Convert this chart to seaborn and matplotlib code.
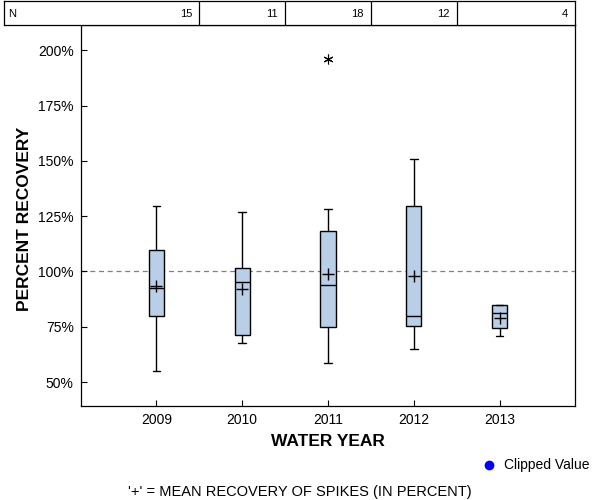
import matplotlib
matplotlib.use("Agg")
import matplotlib.pyplot as plt
import numpy as np
import pandas as pd
import seaborn as sns
from matplotlib.lines import Line2D

# ---- data (percent recovery) ----
years = ["2009", "2010", "2011", "2012", "2013"]
counts = [15, 11, 18, 12, 4]
whisker_low = [54.9, 67.5, 58.5, 64.8, 70.7]
q1 = [79.7, 71.2, 74.9, 75.4, 74.3]
median = [92.4, 95.1, 93.8, 79.7, 81.2]
q3 = [109.6, 101.4, 118.2, 129.6, 84.7]
whisker_high = [129.5, 126.8, 128.1, 150.9, 84.7]
means = [93.4, 92.0, 98.9, 98.1, 79.1]
outlier_years = ["2011"]
outlier_values = [196.1]
yticks = [50, 75, 100, 125, 150, 175, 200]

# five summary values per year -> with whis=(0, 100) seaborn draws exactly these
rows = []
for i, yr in enumerate(years):
    for v in (whisker_low[i], q1[i], median[i], q3[i], whisker_high[i]):
        rows.append({"year": yr, "value": v})
df = pd.DataFrame(rows)

sns.set_style("ticks")
plt.rcParams["font.family"] = ["Liberation Sans", "DejaVu Sans"]
plt.rcParams["text.color"] = "black"
plt.rcParams["axes.labelcolor"] = "black"

# layout in pixels
W, H = 600, 500
ax_l, ax_r, ax_t, ax_b = 80.7, 575.3, 25, 405.7
tab_l, tab_t = 4, 1
xlim = (-0.882, 4.882)
ylim = (39.3, 211.4)

fig = plt.figure(figsize=(6, 5), dpi=100)
ax = fig.add_axes([ax_l / W, 1 - ax_b / H, (ax_r - ax_l) / W, (ax_b - ax_t) / H])

ax.axhline(100, color="#808080", linestyle=(0, (4, 3)), linewidth=0.9, zorder=0)

sns.boxplot(data=df, x="year", y="value", order=years, whis=(0, 100),
            width=0.175, color="#b8cfe7", saturation=1, linecolor="black",
            linewidth=1, showfliers=False, ax=ax)

sns.pointplot(x=years, y=means, order=years, errorbar=None, linestyle="none",
              marker="+", markersize=9, markeredgewidth=1, color="black",
              zorder=5, ax=ax)
sns.pointplot(x=outlier_years, y=outlier_values, order=years, errorbar=None,
              linestyle="none", marker=(6, 2, 0), markersize=7,
              markeredgewidth=0.8, color="black", zorder=5, ax=ax)

ax.set_xlim(*xlim)
ax.set_ylim(*ylim)
ax.set_yticks(yticks)
ax.set_yticklabels([f"{v}%" for v in yticks])
ax.tick_params(axis="both", direction="in", length=4, width=0.8,
               labelsize=10, colors="black")
ax.tick_params(axis="y", pad=5)
ax.tick_params(axis="x", pad=5)
for s in ax.spines.values():
    s.set_visible(True)
    s.set_linewidth(0.9)
    s.set_color("black")

ax.set_xlabel("WATER YEAR", fontsize=12.5, fontweight="bold")
ax.set_ylabel("PERCENT RECOVERY", fontsize=12.5, fontweight="bold")
ax.yaxis.set_label_coords((32 - ax_l) / (ax_r - ax_l), 0.49)
ax.xaxis.set_label_coords(0.5, -(434 - ax_b) / (ax_b - ax_t))

# ---- N row above the plot ----
unit = (ax_r - ax_l) / (xlim[1] - xlim[0])
tax = fig.add_axes([tab_l / W, 1 - ax_t / H, (ax_r - tab_l) / W, (ax_t - tab_t) / H])
tax.set_xlim(xlim[0] - (ax_l - tab_l) / unit, xlim[1])
tax.set_ylim(0, 1)
tax.set_xticks([])
tax.set_yticks([])
for s in tax.spines.values():
    s.set_linewidth(0.9)
    s.set_color("black")
for i in range(len(years) - 1):
    tax.axvline(i + 0.5, color="black", linewidth=0.9)
tax.text(tax.get_xlim()[0] + 4 / unit, 0.45, "N", fontsize=8,
         ha="left", va="center")
for i, n in enumerate(counts):
    right = i + 0.5 if i < len(counts) - 1 else xlim[1]
    tax.text(right - 7 / unit, 0.45, str(n), fontsize=8,
             ha="right", va="center")

# ---- legend and footnote ----
fig.add_artist(Line2D([489 / W], [1 - 465 / H], marker="o", color="blue",
                      markersize=6, linestyle="none", transform=fig.transFigure))
fig.text(504 / W, 1 - 465 / H, "Clipped Value", fontsize=10, va="center")
fig.text(0.5, 1 - 492 / H, "'+' = MEAN RECOVERY OF SPIKES (IN PERCENT)",
         fontsize=10.5, ha="center", va="center")

fig.savefig("out.png", dpi=100)
